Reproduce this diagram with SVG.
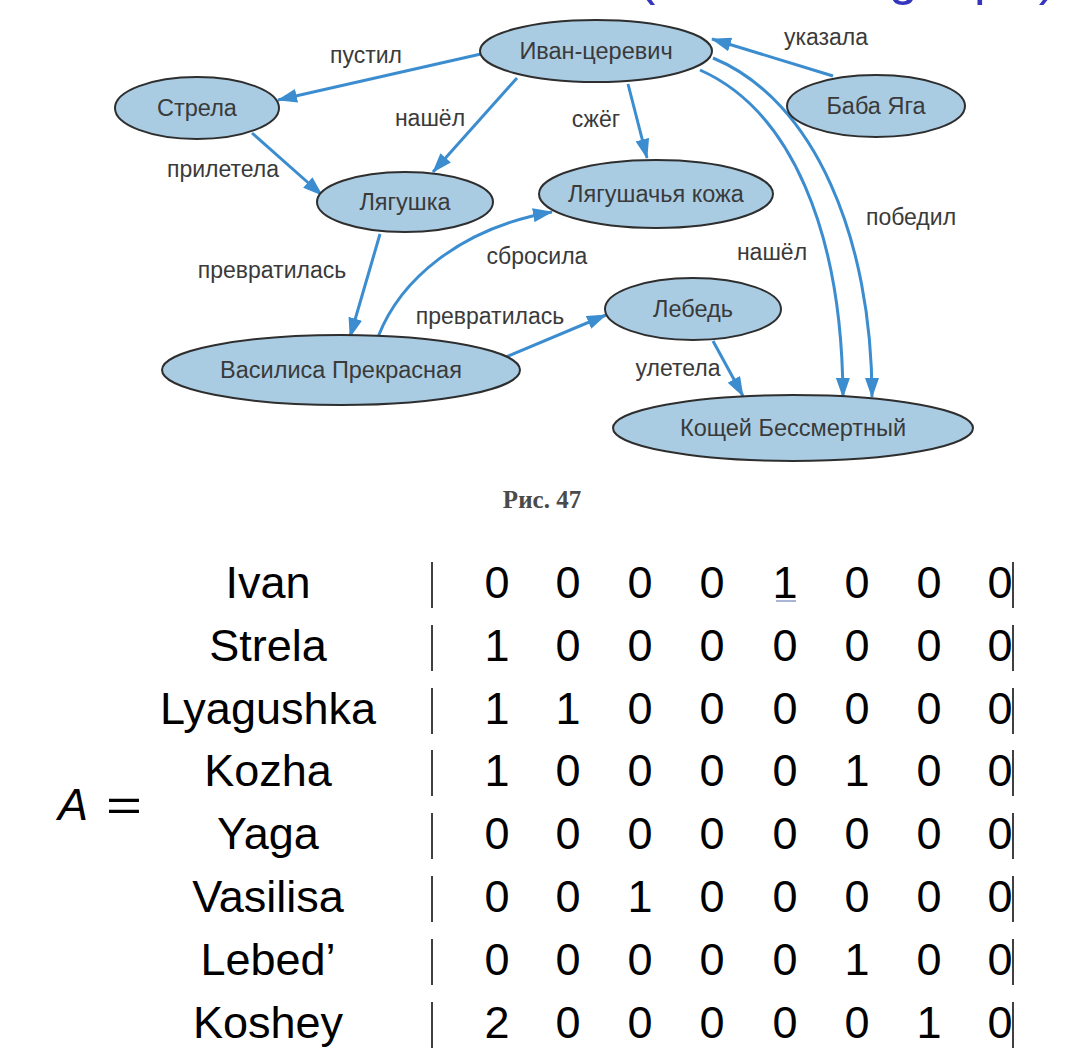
<svg xmlns="http://www.w3.org/2000/svg" width="1084" height="1060" viewBox="0 0 1084 1060">
<defs>
<style>
.node ellipse{fill:#a9cce3;stroke:#2e2e2e;stroke-width:2}
.node text{font-family:"Liberation Sans",Arial,sans-serif;font-size:23.5px;fill:#3a3a3a;text-anchor:middle}
.lbl{font-family:"Liberation Sans",Arial,sans-serif;font-size:23px;fill:#3a3a3a;text-anchor:middle}
.edge{fill:none;stroke:#3b8dcf;stroke-width:3;marker-end:url(#ah)}
.m{font-family:"Liberation Sans",Arial,sans-serif;font-size:45px;fill:#000}
.rl{text-anchor:middle}
.bar{stroke:#000;stroke-width:1.5}
</style>
<marker id="ah" viewBox="0 0 20 14" refX="19" refY="7" markerWidth="20" markerHeight="14" markerUnits="userSpaceOnUse" orient="auto">
<path d="M0,0 L20,7 L0,14 z" fill="#3b8dcf"/>
</marker>
</defs>
<rect width="1084" height="1060" fill="#ffffff"/>
<text x="638" y="-6" font-family="Liberation Sans,Arial,sans-serif" font-size="52" fill="#3535c0" textLength="418" lengthAdjust="spacing">(directed graph)</text>

<g id="connectors">
<path class="edge" d="M481,54 L278,100"/>
<path class="edge" d="M517,78 L433,172"/>
<path class="edge" d="M252,133 L322,195"/>
<path class="edge" d="M628,84 L647,158"/>
<path class="edge" d="M833,76 L712,39"/>
<path class="edge" d="M700,70 C790,110 842,230 843,397"/>
<path class="edge" d="M713,58 C815,100 872,240 872,397"/>
<path class="edge" d="M380,234 L350,337"/>
<path class="edge" d="M378,337 C400,280 460,228 552,212"/>
<path class="edge" d="M506,357 L606,315"/>
<path class="edge" d="M713,341 L743,396"/>
</g>

<g id="edge-labels">
<text class="lbl" x="366" y="63">пустил</text>
<text class="lbl" x="430" y="126">нашёл</text>
<text class="lbl" x="223" y="177">прилетела</text>
<text class="lbl" x="596" y="127">сжёг</text>
<text class="lbl" x="826" y="45">указала</text>
<text class="lbl" x="911" y="225">победил</text>
<text class="lbl" x="772" y="260">нашёл</text>
<text class="lbl" x="537" y="264">сбросила</text>
<text class="lbl" x="272" y="278">превратилась</text>
<text class="lbl" x="490" y="324">превратилась</text>
<text class="lbl" x="678" y="376">улетела</text>
</g>

<g id="n-ivan" class="node"><ellipse cx="596" cy="51" rx="116" ry="31"/><text x="596" y="59">Иван-церевич</text></g>
<g id="n-strela" class="node"><ellipse cx="197" cy="108" rx="82" ry="31"/><text x="197" y="116">Стрела</text></g>
<g id="n-lyagushka" class="node"><ellipse cx="405" cy="202" rx="88" ry="30"/><text x="405" y="210">Лягушка</text></g>
<g id="n-kozha" class="node"><ellipse cx="656" cy="194" rx="117" ry="34"/><text x="656" y="202">Лягушачья кожа</text></g>
<g id="n-yaga" class="node"><ellipse cx="876" cy="106" rx="89" ry="31"/><text x="876" y="114">Баба Яга</text></g>
<g id="n-vasilisa" class="node"><ellipse cx="341" cy="370" rx="179" ry="35"/><text x="341" y="378">Василиса Прекрасная</text></g>
<g id="n-lebed" class="node"><ellipse cx="693" cy="309" rx="88" ry="31"/><text x="693" y="317">Лебедь</text></g>
<g id="n-koshey" class="node"><ellipse cx="793" cy="428" rx="180" ry="33"/><text x="793" y="436">Кощей Бессмертный</text></g>

<text x="542" y="508" font-family="Liberation Serif,Times New Roman,serif" font-size="25" font-weight="bold" fill="#4a4a4a" text-anchor="middle">Рис. 47</text>

<g id="matrix">
<text class="m" x="58" y="820" font-style="italic">A</text>
<text class="m" x="106" y="820" textLength="36" lengthAdjust="spacingAndGlyphs">=</text>
<g class="m rl">
<text x="268" y="598">Ivan</text>
<text x="268" y="661">Strela</text>
<text x="268" y="724">Lyagushka</text>
<text x="268" y="786">Kozha</text>
<text x="268" y="849">Yaga</text>
<text x="268" y="912">Vasilisa</text>
<text x="268" y="975">Lebed’</text>
<text x="268" y="1038">Koshey</text>
</g>
<g class="bar">
<line x1="432" y1="562" x2="432" y2="608"/><line x1="1013" y1="562" x2="1013" y2="608"/>
<line x1="432" y1="625" x2="432" y2="671"/><line x1="1013" y1="625" x2="1013" y2="671"/>
<line x1="432" y1="688" x2="432" y2="734"/><line x1="1013" y1="688" x2="1013" y2="734"/>
<line x1="432" y1="750" x2="432" y2="796"/><line x1="1013" y1="750" x2="1013" y2="796"/>
<line x1="432" y1="813" x2="432" y2="859"/><line x1="1013" y1="813" x2="1013" y2="859"/>
<line x1="432" y1="876" x2="432" y2="922"/><line x1="1013" y1="876" x2="1013" y2="922"/>
<line x1="432" y1="939" x2="432" y2="985"/><line x1="1013" y1="939" x2="1013" y2="985"/>
<line x1="432" y1="1002" x2="432" y2="1048"/><line x1="1013" y1="1002" x2="1013" y2="1048"/>
</g>
<g class="m rl">
<text y="598"><tspan x="497">0</tspan><tspan x="568">0</tspan><tspan x="640">0</tspan><tspan x="712">0</tspan><tspan x="785">1</tspan><tspan x="857">0</tspan><tspan x="929">0</tspan><tspan x="1000">0</tspan></text>
<text y="661"><tspan x="497">1</tspan><tspan x="568">0</tspan><tspan x="640">0</tspan><tspan x="712">0</tspan><tspan x="785">0</tspan><tspan x="857">0</tspan><tspan x="929">0</tspan><tspan x="1000">0</tspan></text>
<text y="724"><tspan x="497">1</tspan><tspan x="568">1</tspan><tspan x="640">0</tspan><tspan x="712">0</tspan><tspan x="785">0</tspan><tspan x="857">0</tspan><tspan x="929">0</tspan><tspan x="1000">0</tspan></text>
<text y="786"><tspan x="497">1</tspan><tspan x="568">0</tspan><tspan x="640">0</tspan><tspan x="712">0</tspan><tspan x="785">0</tspan><tspan x="857">1</tspan><tspan x="929">0</tspan><tspan x="1000">0</tspan></text>
<text y="849"><tspan x="497">0</tspan><tspan x="568">0</tspan><tspan x="640">0</tspan><tspan x="712">0</tspan><tspan x="785">0</tspan><tspan x="857">0</tspan><tspan x="929">0</tspan><tspan x="1000">0</tspan></text>
<text y="912"><tspan x="497">0</tspan><tspan x="568">0</tspan><tspan x="640">1</tspan><tspan x="712">0</tspan><tspan x="785">0</tspan><tspan x="857">0</tspan><tspan x="929">0</tspan><tspan x="1000">0</tspan></text>
<text y="975"><tspan x="497">0</tspan><tspan x="568">0</tspan><tspan x="640">0</tspan><tspan x="712">0</tspan><tspan x="785">0</tspan><tspan x="857">1</tspan><tspan x="929">0</tspan><tspan x="1000">0</tspan></text>
<text y="1038"><tspan x="497">2</tspan><tspan x="568">0</tspan><tspan x="640">0</tspan><tspan x="712">0</tspan><tspan x="785">0</tspan><tspan x="857">0</tspan><tspan x="929">1</tspan><tspan x="1000">0</tspan></text>
</g>
<line x1="776" y1="601" x2="796" y2="601" stroke="#8e9cc8" stroke-width="1.5"/>
</g>
</svg>
